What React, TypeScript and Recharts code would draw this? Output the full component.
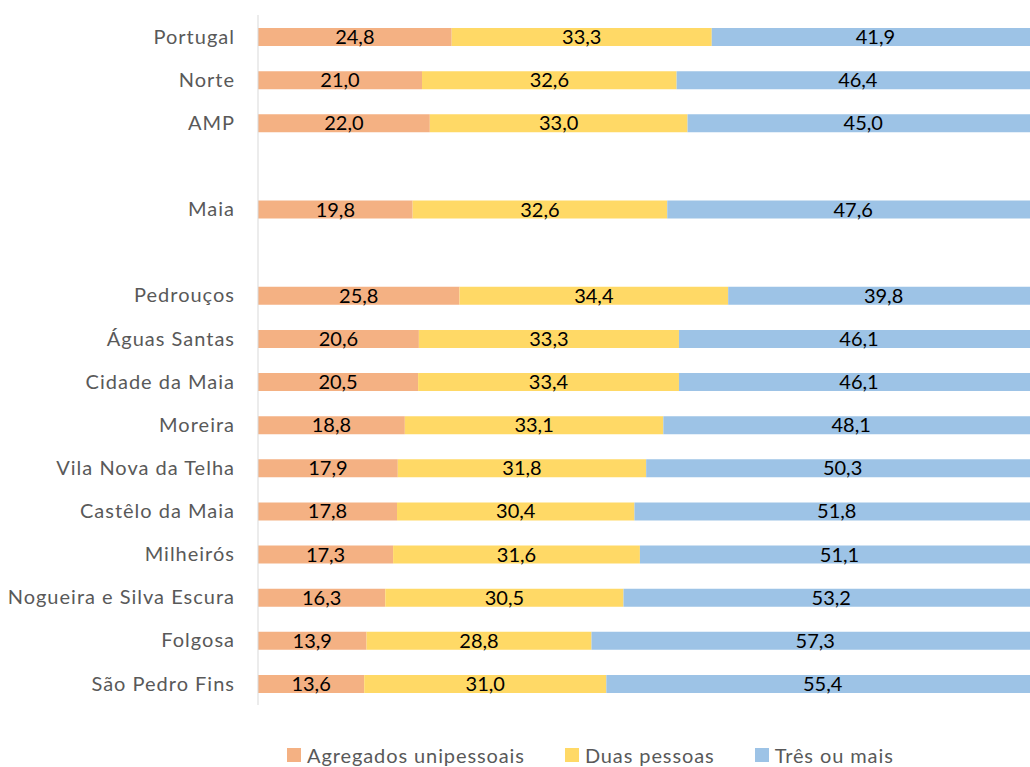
import { Bar, BarChart, LabelList, XAxis, YAxis } from "recharts";

const categories = [
  "Portugal",
  "Norte",
  "AMP",
  "",
  "Maia",
  "",
  "Pedrouços",
  "Águas Santas",
  "Cidade da Maia",
  "Moreira",
  "Vila Nova da Telha",
  "Castêlo da Maia",
  "Milheirós",
  "Nogueira e Silva Escura",
  "Folgosa",
  "São Pedro Fins",
];

const unipessoais = [24.8, 21.0, 22.0, null, 19.8, null, 25.8, 20.6, 20.5, 18.8, 17.9, 17.8, 17.3, 16.3, 13.9, 13.6];
const duasPessoas = [33.3, 32.6, 33.0, null, 32.6, null, 34.4, 33.3, 33.4, 33.1, 31.8, 30.4, 31.6, 30.5, 28.8, 31.0];
const tresOuMais = [41.9, 46.4, 45.0, null, 47.6, null, 39.8, 46.1, 46.1, 48.1, 50.3, 51.8, 51.1, 53.2, 57.3, 55.4];

const seriesNames = ["Agregados unipessoais", "Duas pessoas", "Três ou mais"];
const colors = ["#F4B183", "#FFD966", "#9DC3E6"];

const data = categories.map((name, i) => ({
  name,
  a: unipessoais[i],
  b: duasPessoas[i],
  c: tresOuMais[i],
}));

const font = "Lato, 'Open Sans', sans-serif";

const fmt = (v: any) => (v == null ? "" : Number(v).toFixed(1).replace(".", ","));

function LegendRow() {
  return (
    <div
      style={{
        position: "absolute",
        left: 287,
        top: 744,
        display: "flex",
        fontFamily: font,
        fontSize: 20,
        lineHeight: "22px",
        letterSpacing: 0.9,
        color: "#595959",
        whiteSpace: "nowrap",
      }}
    >
      {seriesNames.map((n, i) => (
        <div key={n} style={{ display: "flex", alignItems: "center", marginRight: 40 }}>
          <span style={{ width: 14, height: 14, background: colors[i], display: "inline-block", marginRight: 6 }} />
          <span>{n}</span>
        </div>
      ))}
    </div>
  );
}

export default function App() {
  return (
    <div style={{ position: "absolute", left: 0, top: 0, width: 1030, height: 767, overflow: "hidden", background: "#fff" }}>
      <BarChart
        layout="vertical"
        width={1039}
        height={767}
        data={data}
        margin={{ top: 15, right: 0, left: 0, bottom: 62 }}
      >
        <XAxis type="number" domain={[0, 100]} hide />
        <YAxis
          type="category"
          dataKey="name"
          width={258}
          tickLine={false}
          tickSize={0}
          tickMargin={23}
          axisLine={{ stroke: "#d9d9d9" }}
          tick={{ fill: "#595959", fontSize: 20, fontFamily: font, letterSpacing: 1 }}
          interval={0}
        />
        {["a", "b", "c"].map((k, i) => (
          <Bar key={k} dataKey={k} stackId="s" fill={colors[i]} barSize={18} isAnimationActive={false}>
            <LabelList dataKey={k} position="center" formatter={fmt} fill="#000" fontSize={20} fontFamily={font} />
          </Bar>
        ))}
      </BarChart>
      <LegendRow />
    </div>
  );
}
